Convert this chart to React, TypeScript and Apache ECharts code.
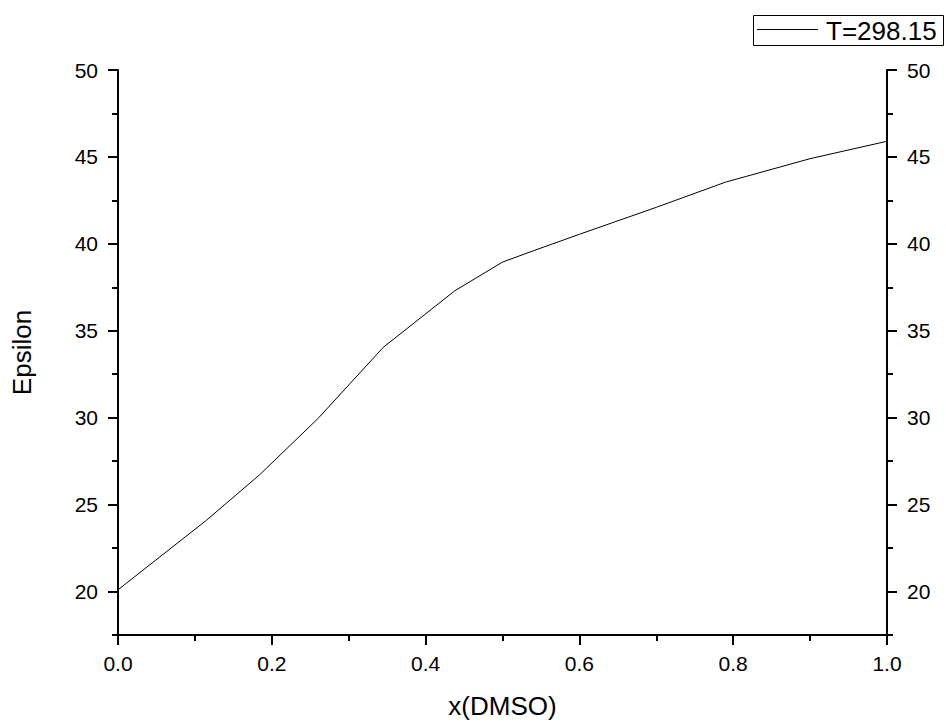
import React, { useEffect, useRef } from "react";
import * as echarts from "echarts";

const xDMSO = [0, 0.115, 0.185, 0.26, 0.345, 0.438, 0.5, 0.54, 0.6, 0.7, 0.79, 0.9, 1.0];
const epsilon = [20.1, 24.1, 26.75, 29.95, 34.05, 37.3, 38.95, 39.6, 40.55, 42.1, 43.55, 44.9, 45.9];
const yMajorTicks = [20, 25, 30, 35, 40, 45, 50];
const yMinorTicks = [17.5, 22.5, 27.5, 32.5, 37.5, 42.5, 47.5];
const seriesName = "T=298.15";

const FONT = "'Liberation Sans', Arial, sans-serif";

export default function App() {
  const ref = useRef<HTMLDivElement>(null);
  useEffect(() => {
    document.body.style.margin = "0";
    const chart = echarts.init(ref.current!, null, { renderer: "svg", width: 946, height: 724 });
    const yBase = {
      type: "value" as const,
      min: 17.5,
      max: 50,
      splitLine: { show: false },
    };
    const majorY = (pos: "left" | "right") => ({
      ...yBase,
      position: pos,
      axisLine: { show: true, lineStyle: { color: "#000", width: 2 } },
      axisTick: { show: true, length: 10, customValues: yMajorTicks, lineStyle: { color: "#000", width: 2 } },
      axisLabel: {
        show: true,
        customValues: yMajorTicks,
        margin: 20,
        fontSize: 21,
        color: "#000",
        fontFamily: FONT,
      },
    });
    const minorY = (pos: "left" | "right") => ({
      ...yBase,
      position: pos,
      axisLine: { show: false },
      axisTick: { show: true, length: 6, customValues: yMinorTicks, lineStyle: { color: "#000", width: 2 } },
      axisLabel: { show: false },
    });
    const data = xDMSO.map((x, i) => [x, epsilon[i]]);
    chart.setOption({
      animation: false,
      backgroundColor: "#fff",
      grid: { left: 118, width: 769, top: 70, height: 569, containLabel: false },
      graphic: [
        {
          type: "rect",
          shape: { x: 753.5, y: 15.5, width: 190, height: 30 },
          style: { fill: "#fff", stroke: "#000", lineWidth: 1 },
        },
        {
          type: "line",
          shape: { x1: 757, y1: 29.5, x2: 818, y2: 29.5 },
          style: { stroke: "#000", lineWidth: 1 },
        },
        {
          type: "text",
          x: 826,
          y: 31,
          style: {
            text: seriesName,
            fontSize: 26,
            fontFamily: FONT,
            fill: "#000",
            verticalAlign: "middle",
            align: "left",
          },
        },
      ],
      xAxis: {
        type: "value",
        min: 0,
        max: 1,
        interval: 0.2,
        name: "x(DMSO)",
        nameLocation: "middle",
        nameGap: 58,
        nameTextStyle: { fontSize: 26, color: "#000", fontFamily: FONT },
        splitLine: { show: false },
        axisLine: { show: true, onZero: false, lineStyle: { color: "#000", width: 2 } },
        axisTick: { show: true, length: 10, lineStyle: { color: "#000", width: 2 } },
        minorTick: { show: true, splitNumber: 2, length: 6, lineStyle: { color: "#000", width: 2 } },
        axisLabel: {
          margin: 18,
          fontSize: 21,
          color: "#000",
          fontFamily: FONT,
          formatter: (v: number) => v.toFixed(1),
        },
      },
      yAxis: [
        {
          ...majorY("left"),
          name: "Epsilon",
          nameLocation: "middle",
          nameGap: 83,
          nameTextStyle: { fontSize: 26, color: "#000", fontFamily: FONT },
        },
        minorY("left"),
        majorY("right"),
        minorY("right"),
      ],
      series: [
        {
          name: seriesName,
          type: "line",
          yAxisIndex: 0,
          data,
          symbol: "none",
          showSymbol: false,
          lineStyle: { color: "#000", width: 1 },
          itemStyle: { color: "#000" },
        },
      ],
    });
    return () => chart.dispose();
  }, []);
  return <div ref={ref} style={{ width: 946, height: 724 }} />;
}
